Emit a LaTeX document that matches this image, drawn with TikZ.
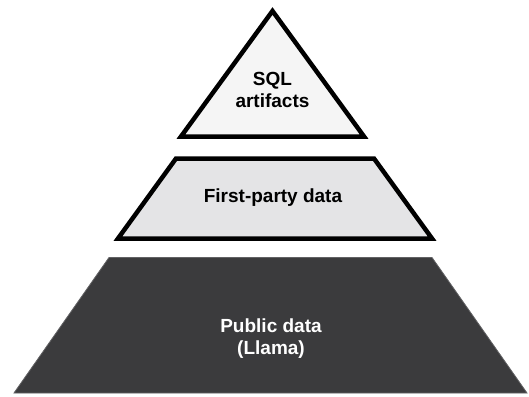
\documentclass[tikz,border=0pt]{standalone}
\usepackage{fontspec}
\setmainfont{Liberation Sans}
\usepackage{xcolor}
\usepackage{tikz}
\usetikzlibrary{positioning}

\definecolor{tiplight}{HTML}{F5F5F5}
\definecolor{midgray}{HTML}{E4E4E6}
\definecolor{basedark}{HTML}{3B3B3D}

\tikzset{
  layer/.style={draw=black, line width=4.5pt, line join=miter},
  label/.style={font=\bfseries\fontsize{19}{22}\selectfont, align=center},
}

\begin{document}
\begin{tikzpicture}[x=1pt,y=-1pt]
				\useasboundingbox (0,0) rectangle (529,396);
				% top layer
				\path[layer, fill=tiplight] (272.5,11) -- (364,136.5) -- (181,136.5) -- cycle;
				\node[label] (sql) at (272.5,90) {SQL\\artifacts};
				% middle layer
				\path[layer, fill=midgray] (176,158.5) -- (374,158.5) -- (432,238.5) -- (118,238.5) -- cycle;
				\node[label] (first) at (273,198) {First-party data};
				% bottom layer
				\path[fill=basedark, draw=basedark!80!white, line width=0.8pt] (109,257.5) -- (432,257.5) -- (527,393) -- (14,393) -- cycle;
				\node[label, text=white] (public) at (271,339) {Public data\\(Llama)};
			\end{tikzpicture}
\end{document}
